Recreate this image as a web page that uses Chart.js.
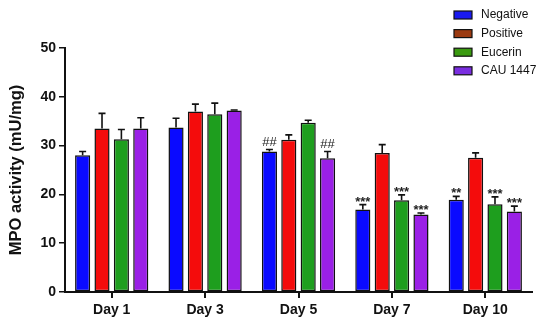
<!DOCTYPE html>
<html><head><meta charset="utf-8">
<script src="https://cdn.jsdelivr.net/npm/chart.js@4"></script>
<style>html,body{margin:0;padding:0;background:#fff;}canvas{display:block;}</style>
</head><body>
<canvas id="c" width="550" height="323"></canvas>
<script>
const categories = ["Day 1","Day 3","Day 5","Day 7","Day 10"];
const seriesNames = ["Negative","Positive","Eucerin","CAU 1447"];
const negative = [28.0, 33.7, 28.8, 16.9, 18.9];
const positive = [33.5, 37.0, 31.2, 28.5, 27.5];
const eucerin  = [31.3, 36.4, 34.7, 18.8, 18.0];
const cau1447  = [33.5, 37.2, 27.4, 15.9, 16.5];
const negativeErr = [0.8, 1.9, 0.4, 1.0, 0.7];
const positiveErr = [3.1, 1.5, 1.0, 1.7, 1.0];
const eucerinErr  = [2.0, 2.3, 0.5, 1.1, 1.5];
const cau1447Err  = [2.2, 0.1, 1.4, 0.3, 1.1];
const negativeMarks = ["", "", "##", "***", "**"];
const positiveMarks = ["", "", "", "", ""];
const eucerinMarks  = ["", "", "", "***", "***"];
const cau1447Marks  = ["", "", "##", "***", "***"];
const yTicks = [0, 10, 20, 30, 40, 50];

const colors = ["#0a0aff", "#f40c0c", "#1e9e1e", "#9a20e6"];
const legendColors = ["#1a1af0", "#9b3a10", "#3a9a10", "#7a2ee0"];
const values = [negative, positive, eucerin, cau1447];
const errs = [negativeErr, positiveErr, eucerinErr, cau1447Err];
const marks = [negativeMarks, positiveMarks, eucerinMarks, cau1447Marks];

const FONT = "Arial, 'Liberation Sans', sans-serif";

const errorPlugin = {
  id: 'errs',
  afterDatasetsDraw(chart) {
    const ctx = chart.ctx;
    const y = chart.scales.y;
    ctx.save();
    chart.data.datasets.forEach((ds, di) => {
      const meta = chart.getDatasetMeta(di);
      meta.data.forEach((bar, i) => {
        const top = y.getPixelForValue(values[di][i] + errs[di][i]);
        const x = bar.x;
        ctx.strokeStyle = '#111';
        ctx.lineWidth = 1.6;
        ctx.beginPath();
        ctx.moveTo(x, bar.y);
        ctx.lineTo(x, top);
        ctx.moveTo(x - 3.5, top);
        ctx.lineTo(x + 3.5, top);
        ctx.stroke();
        const m = marks[di][i];
        if (m) {
          ctx.fillStyle = '#222';
          ctx.textAlign = 'center';
          ctx.textBaseline = 'bottom';
          if (m.startsWith('#')) {
            ctx.font = "13px " + FONT;
            ctx.fillText(m, x, top - 1);
          } else {
            ctx.font = "bold 13px " + FONT;
            ctx.fillText(m, x, top + 4);
          }
        }
      });
    });
    ctx.restore();
  }
};

const legendPlugin = {
  id: 'customLegend',
  afterDraw(chart) {
    const ctx = chart.ctx;
    ctx.save();
    seriesNames.forEach((n, i) => {
      const yy = 15 + i * 18.6;
      ctx.fillStyle = legendColors[i];
      ctx.fillRect(454, yy - 4, 18, 8);
      ctx.strokeStyle = '#111';
      ctx.lineWidth = 1.2;
      ctx.strokeRect(454, yy - 4, 18, 8);
      ctx.fillStyle = '#111';
      ctx.font = "12px " + FONT;
      ctx.textAlign = 'left';
      ctx.textBaseline = 'middle';
      ctx.fillText(n, 481, yy);
    });
    ctx.restore();
  }
};

new Chart(document.getElementById('c'), {
  type: 'bar',
  data: {
    labels: categories,
    datasets: seriesNames.map((n, i) => ({
      label: n,
      data: values[i],
      backgroundColor: colors[i],
      borderColor: '#111',
      borderWidth: 1.5,
      borderSkipped: false,
      categoryPercentage: 0.83,
      barPercentage: 0.78
    }))
  },
  options: {
    responsive: false,
    animation: false,
    layout: { padding: { top: 48, right: 18, left: 0, bottom: 0 } },
    plugins: { legend: { display: false }, tooltip: { enabled: false } },
    scales: {
      x: {
        grid: { display: true, offset: false, drawOnChartArea: false, drawTicks: true, tickLength: 6, tickColor: '#111', tickWidth: 2, color: '#111', lineWidth: 2 },
        border: { display: true, color: '#111', width: 2 },
        ticks: { color: '#111', font: { family: FONT, size: 14, weight: 'bold' }, padding: 4, maxRotation: 0 },
        afterFit(s) { s.height = 31; }
      },
      y: {
        min: 0, max: 50,
        afterBuildTicks(s) { s.ticks = yTicks.map(v => ({ value: v })); },
        grid: { display: true, drawOnChartArea: false, drawTicks: true, tickLength: 6, tickColor: '#111', tickWidth: 1.5, color: '#111', lineWidth: 1.5 },
        border: { display: true, color: '#111', width: 2 },
        ticks: { color: '#111', font: { family: FONT, size: 14, weight: 'bold' }, padding: 3 },
        title: { display: true, text: 'MPO activity (mU/mg)', color: '#111', font: { family: FONT, size: 16.5, weight: 'bold' }, padding: { top: 7, bottom: 0 } },
        afterFit(s) { s.width = 65; }
      }
    }
  },
  plugins: [errorPlugin, legendPlugin]
});
</script>
</body></html>
